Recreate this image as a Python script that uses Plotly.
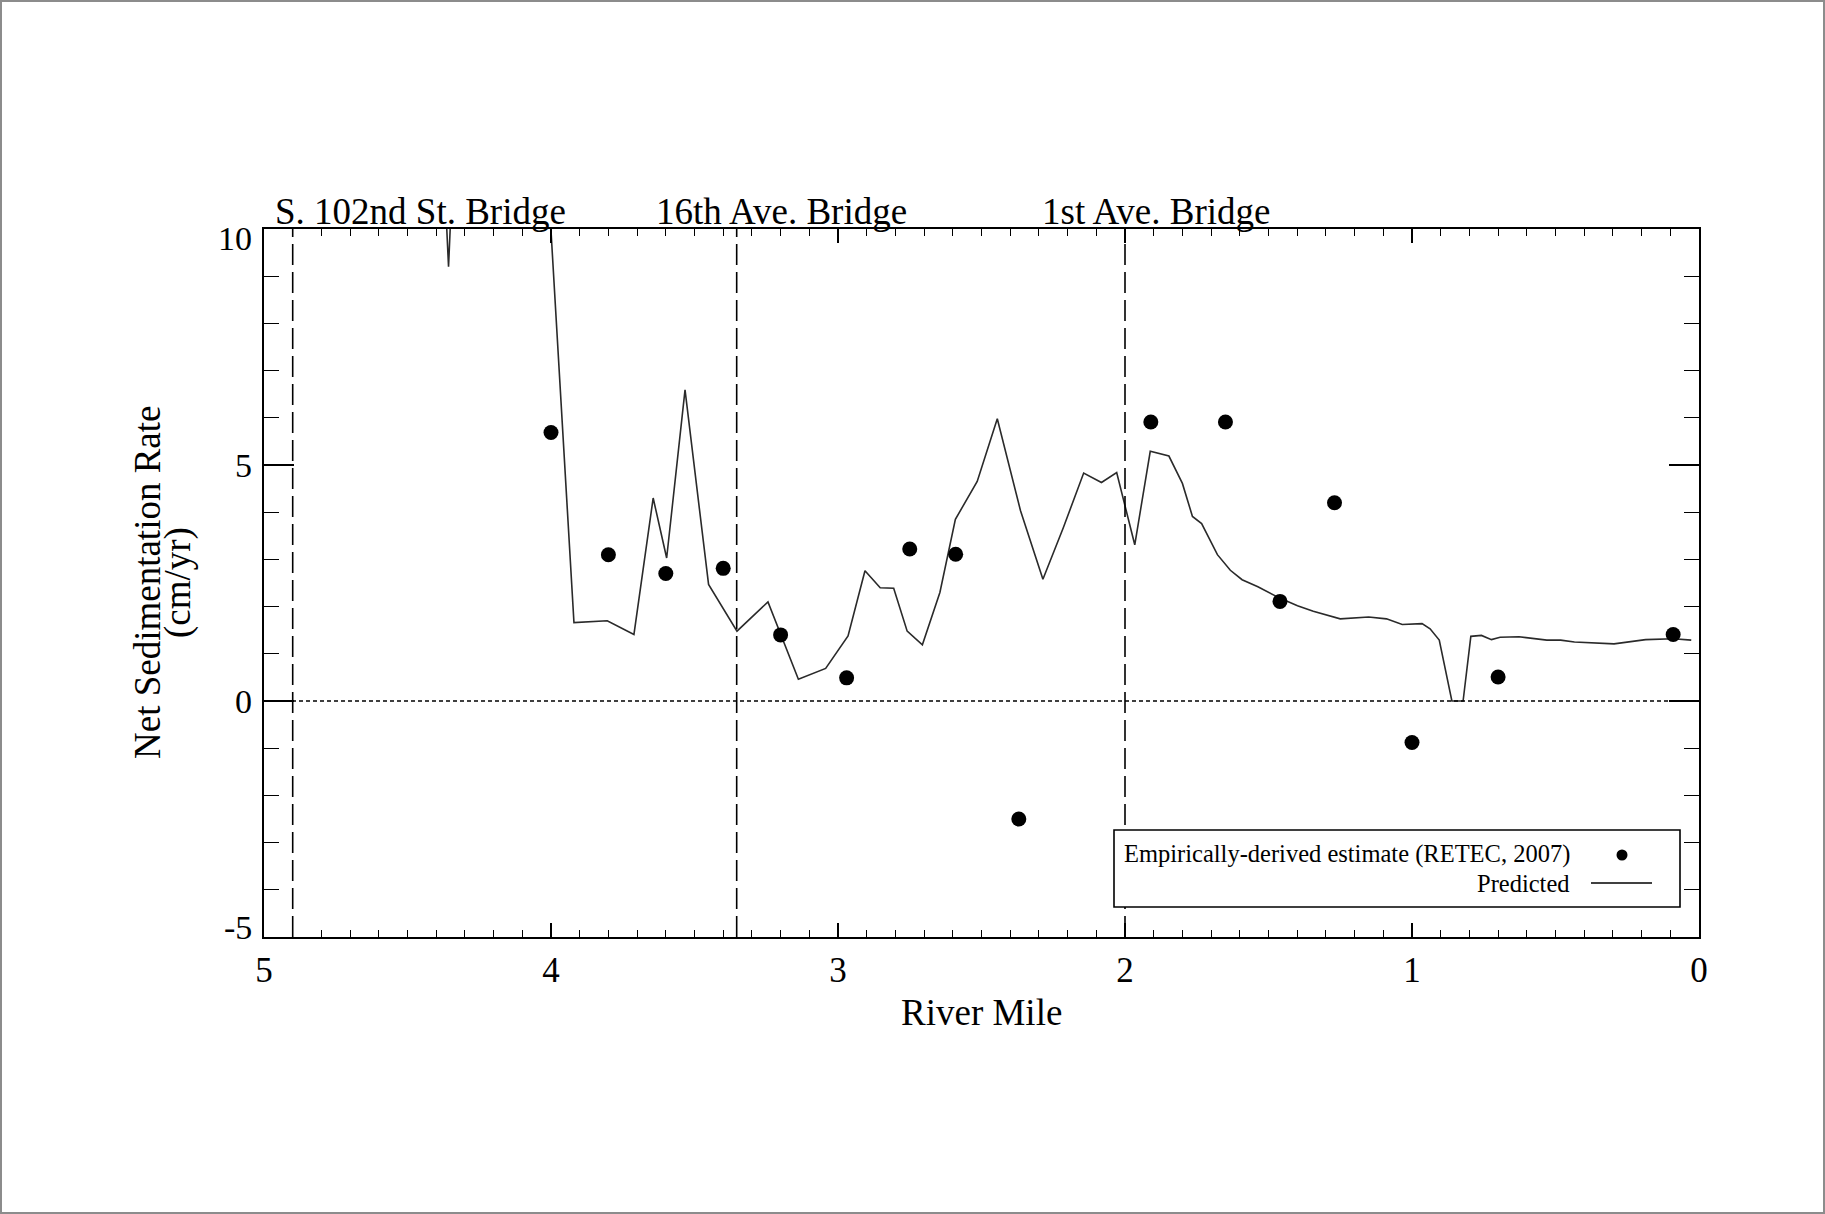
import plotly.graph_objects as go

# Predicted net sedimentation rate along the river (river mile, cm/yr)
pred_mile = [4.90, 4.44, 4.357, 4.28, 4.01, 3.92, 3.804, 3.711, 3.644, 3.597, 3.533, 3.451,
             3.352, 3.244, 3.138, 3.043, 2.965, 2.906, 2.853, 2.806, 2.759, 2.706, 2.645,
             2.591, 2.515, 2.445, 2.364, 2.286, 2.215, 2.144, 2.082, 2.029, 1.966, 1.912,
             1.847, 1.800, 1.765, 1.733, 1.678, 1.633, 1.592, 1.537, 1.461, 1.399, 1.344,
             1.250, 1.151, 1.089, 1.034, 0.965, 0.937, 0.905, 0.861, 0.822, 0.795, 0.758,
             0.723, 0.693, 0.627, 0.530, 0.482, 0.434, 0.296, 0.186, 0.089, 0.027]
pred_rate = [20.0, 20.0, 9.2, 20.0, 11.0, 1.66, 1.70, 1.41, 4.30, 3.03, 6.59, 2.47,
             1.48, 2.10, 0.46, 0.69, 1.38, 2.76, 2.40, 2.39, 1.48, 1.19, 2.30,
             3.85, 4.65, 5.98, 4.03, 2.58, 3.67, 4.83, 4.63, 4.84, 3.31, 5.29,
             5.19, 4.61, 3.91, 3.76, 3.10, 2.77, 2.57, 2.42, 2.18, 2.02, 1.90,
             1.74, 1.78, 1.74, 1.62, 1.64, 1.53, 1.29, 0.0, 0.0, 1.37, 1.39,
             1.30, 1.35, 1.36, 1.29, 1.29, 1.25, 1.21, 1.30, 1.32, 1.29]

# Empirically-derived estimates (RETEC, 2007)
emp_mile = [4.00, 3.80, 3.60, 3.40, 3.20, 2.97, 2.75, 2.59, 2.37, 1.91, 1.65, 1.46, 1.27, 1.00, 0.70, 0.09]
emp_rate = [5.69, 3.10, 2.70, 2.81, 1.40, 0.49, 3.22, 3.11, -2.50, 5.91, 5.91, 2.11, 4.20, -0.88, 0.51, 1.41]

# Bridge locations
bridge_names = ["S. 102nd St. Bridge", "16th Ave. Bridge", "1st Ave. Bridge"]
bridge_mile = [4.9, 3.353, 2.0]

x_ticks = [0, 1, 2, 3, 4, 5]
y_ticks = [-5, 0, 5, 10]

W, H = 1825, 1214
L, R, T, B = 264, 126, 229, 277
PW, PH = W - L - R, H - T - B
FONT = "Liberation Serif"


def px_x(p):
    return (p - L) / PW


def px_y(p):
    return (H - B - p) / PH


fig = go.Figure()

fig.add_trace(go.Scatter(
    x=pred_mile, y=pred_rate, mode="lines",
    line=dict(color="#2a2a2a", width=1.6),
    showlegend=False, hoverinfo="skip",
))
fig.add_trace(go.Scatter(
    x=emp_mile, y=emp_rate, mode="markers",
    marker=dict(color="black", size=15),
    showlegend=False,
))

shapes = []
# bridge markers
for m in bridge_mile:
    shapes.append(dict(type="line", xref="x", yref="paper", x0=m, x1=m, y0=0, y1=1,
                       line=dict(color="black", width=1.6, dash="21px,7px")))
# zero reference line
shapes.append(dict(type="line", xref="paper", yref="y", x0=0, x1=1, y0=0, y1=0,
                   line=dict(color="black", width=1.6, dash="4px,3px")))

# legend box
lx0, lx1, ly0, ly1 = 1114, 1680, 830, 907
shapes.append(dict(type="rect", xref="paper", yref="paper",
                   x0=px_x(lx0), x1=px_x(lx1), y0=px_y(ly1), y1=px_y(ly0),
                   line=dict(color="black", width=1.6), fillcolor="white"))
r = 5.5
shapes.append(dict(type="circle", xref="paper", yref="paper",
                   x0=px_x(1622 - r), x1=px_x(1622 + r), y0=px_y(855 + r), y1=px_y(855 - r),
                   line=dict(color="black", width=0), fillcolor="black"))
shapes.append(dict(type="line", xref="paper", yref="paper",
                   x0=px_x(1591), x1=px_x(1652), y0=px_y(883), y1=px_y(883),
                   line=dict(color="black", width=1.4)))

# page border
shapes.append(dict(type="rect", xref="paper", yref="paper",
                   x0=px_x(1), x1=px_x(W - 1), y0=px_y(H - 1), y1=px_y(1),
                   line=dict(color="#8c8c8c", width=2)))

annotations = []
label_left = [4.969, 3.642, 2.295]
for name, xl in zip(bridge_names, label_left):
    annotations.append(dict(text=name, xref="x", yref="paper", x=xl, y=px_y(212),
                            xanchor="left", yanchor="middle", showarrow=False,
                            font=dict(family=FONT, size=37, color="black")))

# y tick labels, the end labels nudged inside the axis span
y_label_shift = {10: -9, -5: 10}
for v in y_ticks:
    annotations.append(dict(text=str(v), xref="paper", yref="y", x=px_x(254), y=v,
                            xanchor="right", yanchor="middle", showarrow=False,
                            yshift=y_label_shift.get(v, 0),
                            font=dict(family=FONT, size=34, color="black")))

annotations.append(dict(text="River Mile", xref="paper", yref="paper",
                        x=px_x(981), y=px_y(1012), xanchor="center", yanchor="middle",
                        showarrow=False, font=dict(family=FONT, size=37, color="black")))
annotations.append(dict(text="Net Sedimentation Rate", xref="paper", yref="paper",
                        x=px_x(147), y=0.5, xanchor="center", yanchor="middle", textangle=-90,
                        showarrow=False, font=dict(family=FONT, size=37, color="black")))
annotations.append(dict(text="(cm/yr)", xref="paper", yref="paper",
                        x=px_x(178), y=0.5, xanchor="center", yanchor="middle", textangle=-90,
                        showarrow=False, font=dict(family=FONT, size=37, color="black")))

annotations.append(dict(text="Empirically-derived estimate (RETEC, 2007)", xref="paper", yref="paper",
                        x=px_x(1572), y=px_y(854), xanchor="right", yanchor="middle",
                        showarrow=False, font=dict(family=FONT, size=24.5, color="black")))
annotations.append(dict(text="Predicted", xref="paper", yref="paper",
                        x=px_x(1572), y=px_y(883), xanchor="right", yanchor="middle",
                        showarrow=False, font=dict(family=FONT, size=24.5, color="black")))

fig.update_layout(
    width=W, height=H,
    margin=dict(l=L, r=R, t=T, b=B, pad=0),
    paper_bgcolor="white", plot_bgcolor="white",
    shapes=shapes, annotations=annotations,
    font=dict(family=FONT, color="black"),
)

fig.update_xaxes(
    range=[5, 0], tickvals=x_ticks, ticktext=[str(v) for v in x_ticks],
    ticks="inside", ticklen=14, tickwidth=1.6, tickcolor="black",
    minor=dict(dtick=0.1, ticks="inside", ticklen=7, tickwidth=1.4, tickcolor="black"),
    showline=True, linewidth=2, linecolor="black", mirror="ticks",
    showgrid=False, zeroline=False,
    tickfont=dict(family=FONT, size=35, color="black"), ticklabelstandoff=1,
)
fig.update_yaxes(
    range=[-5, 10], tickvals=y_ticks, showticklabels=False,
    ticks="inside", ticklen=30, tickwidth=1.6, tickcolor="black",
    minor=dict(dtick=1, ticks="inside", ticklen=15, tickwidth=1.4, tickcolor="black"),
    showline=True, linewidth=2, linecolor="black", mirror="ticks",
    showgrid=False, zeroline=False,
)

fig.write_html("out.html")
